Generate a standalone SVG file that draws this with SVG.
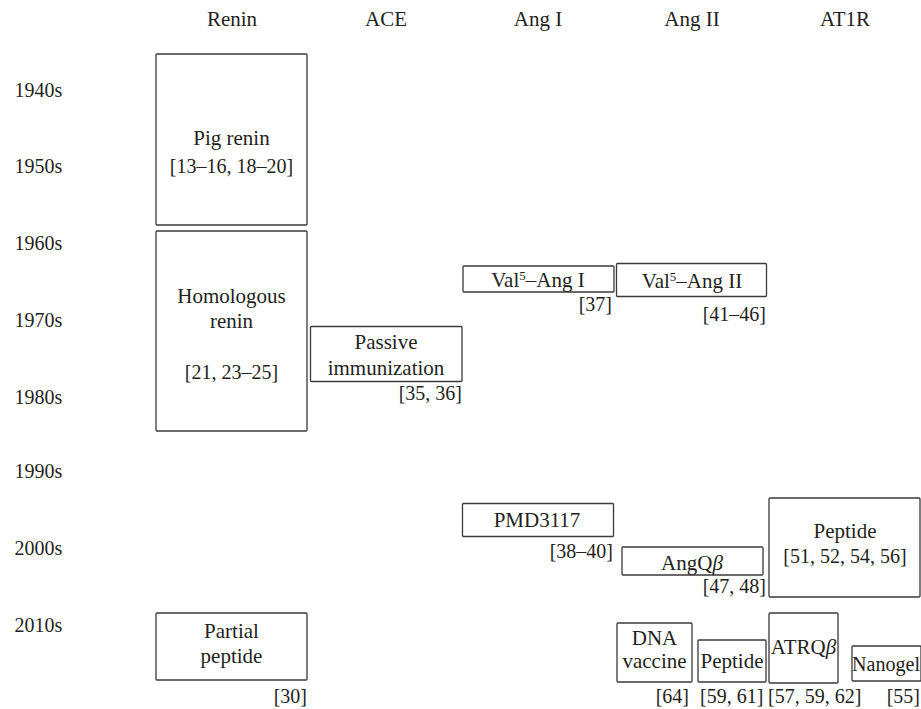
<svg xmlns="http://www.w3.org/2000/svg" width="921" height="709" viewBox="0 0 921 709" font-family="'Liberation Serif', 'DejaVu Serif', 'Times New Roman', Times, serif">
<style>
text{font-family:"Liberation Serif","DejaVu Serif","Times New Roman",Times,serif;fill:#231f20}
.w{font-size:21px;text-anchor:middle}
.n{font-size:20px}
.c{text-anchor:middle}
.e{text-anchor:end}
.s{text-anchor:start}
rect{fill:#fff;stroke:#3a3a3a;stroke-width:1.3}
.sup{font-size:13px}
</style>
<rect x="0" y="0" width="921" height="709" style="fill:#fff;stroke:none"/>
<g id="headers">
<text class="w" x="232" y="26">Renin</text>
<text class="w" x="386" y="26">ACE</text>
<text class="w" x="538" y="26">Ang I</text>
<text class="w" x="692" y="26">Ang II</text>
<text class="w" x="845" y="26">AT1R</text>
</g>
<g id="years">
<text class="n c" x="38.5" y="97">1940s</text>
<text class="n c" x="38.5" y="173">1950s</text>
<text class="n c" x="38.5" y="250">1960s</text>
<text class="n c" x="38.5" y="327">1970s</text>
<text class="n c" x="38.5" y="404">1980s</text>
<text class="n c" x="38.5" y="478">1990s</text>
<text class="n c" x="38.5" y="555">2000s</text>
<text class="n c" x="38.5" y="632">2010s</text>
</g>
<g id="connectors"/>
<g id="pig-renin">
<rect x="156" y="54" width="151" height="171" rx="1"/>
<text class="w" x="231.5" y="145">Pig renin</text>
<text class="n c" x="231.5" y="173">[13–16, 18–20]</text>
</g>
<g id="homologous-renin">
<rect x="156" y="231" width="151" height="200" rx="1"/>
<text class="w" x="231.5" y="303">Homologous</text>
<text class="w" x="231.5" y="328">renin</text>
<text class="n c" x="231.5" y="379">[21, 23–25]</text>
</g>
<g id="passive-immunization">
<rect x="310.5" y="326.5" width="151.5" height="55" rx="1"/>
<text class="w" x="386" y="349">Passive</text>
<text class="w" x="386" y="375">immunization</text>
<text class="n e" x="462" y="400">[35, 36]</text>
</g>
<g id="val5-ang-i">
<rect x="463" y="266" width="151" height="26" rx="1"/>
<text class="w" x="538" y="287">Val<tspan class="sup" dy="-7">5</tspan><tspan dy="7">–Ang I</tspan></text>
<text class="n e" x="612" y="311">[37]</text>
</g>
<g id="val5-ang-ii">
<rect x="616.5" y="263.5" width="150" height="33" rx="1"/>
<text class="w" x="692" y="288">Val<tspan class="sup" dy="-7">5</tspan><tspan dy="7">–Ang II</tspan></text>
<text class="n e" x="766" y="321">[41–46]</text>
</g>
<g id="pmd3117">
<rect x="462.5" y="503.5" width="151" height="33" rx="1"/>
<text class="w" x="537" y="527">PMD3117</text>
<text class="n e" x="613" y="558">[38–40]</text>
</g>
<g id="angqb">
<rect x="622" y="547" width="141" height="28" rx="1"/>
<text class="w" x="692" y="570">AngQ<tspan font-style="italic">β</tspan></text>
<text class="n e" x="766" y="593">[47, 48]</text>
</g>
<g id="peptide-at1r">
<rect x="769" y="498" width="151" height="99" rx="1"/>
<text class="w" x="845" y="538">Peptide</text>
<text class="n c" x="845" y="563">[51, 52, 54, 56]</text>
</g>
<g id="partial-peptide">
<rect x="156" y="613" width="151" height="67" rx="1"/>
<text class="w" x="231.5" y="638">Partial</text>
<text class="w" x="231.5" y="663">peptide</text>
<text class="n e" x="307" y="703">[30]</text>
</g>
<g id="dna-vaccine">
<rect x="617" y="623" width="75" height="59" rx="1"/>
<text class="w" x="654.5" y="645">DNA</text>
<text class="w" x="654.5" y="668">vaccine</text>
<text class="n e" x="689" y="703">[64]</text>
</g>
<g id="peptide-small">
<rect x="698" y="640" width="68" height="42" rx="1"/>
<text class="w" x="732" y="668">Peptide</text>
<text class="n s" x="700" y="703">[59, 61]</text>
</g>
<g id="atrqb">
<rect x="769" y="613" width="69" height="70" rx="1"/>
<text class="w" x="803.5" y="654">ATRQ<tspan font-style="italic">β</tspan></text>
<text class="n s" x="768" y="703">[57, 59, 62]</text>
</g>
<g id="nanogel">
<rect x="852" y="646" width="69" height="35" rx="1"/>
<text x="852" y="671" font-size="20.5px" textLength="68" lengthAdjust="spacingAndGlyphs">Nanogel</text>
<text class="n e" x="920" y="703">[55]</text>
</g>
</svg>
